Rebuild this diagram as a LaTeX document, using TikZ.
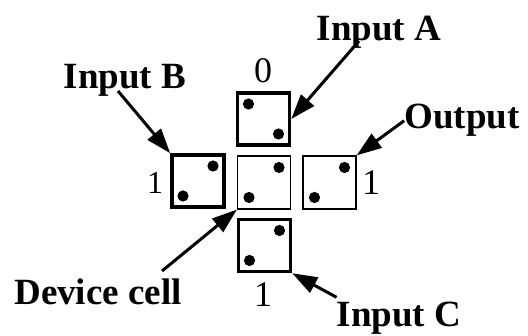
\documentclass[tikz,border=0pt]{standalone}
\usepackage{fontspec}
\setmainfont{Liberation Serif}
\usepackage{tikz}
\usetikzlibrary{arrows.meta}

\begin{document}
\begin{tikzpicture}[x=1pt, y=-1pt,
    cell/.style={draw, line width=1.2pt, minimum size=53pt, inner sep=0pt},
    thickcell/.style={cell, line width=3.5pt, minimum size=52pt},
    lbl/.style={font=\fontsize{37}{40}\selectfont\bfseries, inner sep=0pt, anchor=base},
    num/.style={font=\fontsize{36}{40}\selectfont, inner sep=0pt, anchor=base},
    arr/.style={line width=3pt, -{Triangle[length=25pt, width=17pt]}}]
            \useasboundingbox (0,0) rectangle (528,336);

            % the five cells
            \node[thickcell] (cellA) at (263.5,119) {};
            \node[thickcell] (cellB) at (198,181) {};
            \node[cell] (dev) at (264,182.5) {};
            \node[cell] (out) at (329.5,182.5) {};
            \node[thickcell] (cellC) at (264.5,245.5) {};

            % electrons
            \fill ([shift={(-15,-15)}]cellA.center) circle (5.6pt);
            \fill ([shift={(15,15)}]cellA.center) circle (5.6pt);
            \foreach \c in {cellB,dev,out,cellC} {
              \fill ([shift={(15,-15)}]\c.center) circle (5.6pt);
              \fill ([shift={(-15,15)}]\c.center) circle (5.6pt);
            }

            % polarisations
            \node[num] (polA) at (263,83) {0};
            \node[num] (polB) at (155,194) {\fontsize{32}{36}\selectfont 1};
            \node[num] (polO) at (371,195) {1};
            \node[num] (polC) at (263,307) {1};

            % labels
            \node[lbl] (labA) at (379,41) {Input A};
            \node[lbl] (labB) at (125,89) {Input B};
            \node[lbl] (labO) at (462,129) {Output};
            \node[lbl] (labD) at (98,305) {Device cell};
            \node[lbl] (labC) at (399,327) {Input C};

            \draw[arr] ([xshift=-20pt]labA.base) -- (cellA.east);
            \draw[arr] ([xshift=-7pt, yshift=-2pt]labB.base) -- (cellB.north west);
            \draw[arr] (labO.west) -- (out.north east);
            \draw[arr] ([xshift=64pt, yshift=34pt]labD.base) -- (dev.south west);
            \draw[arr] ([yshift=5pt]labC.north west) -- (cellC.south east);
          \end{tikzpicture}
\end{document}
